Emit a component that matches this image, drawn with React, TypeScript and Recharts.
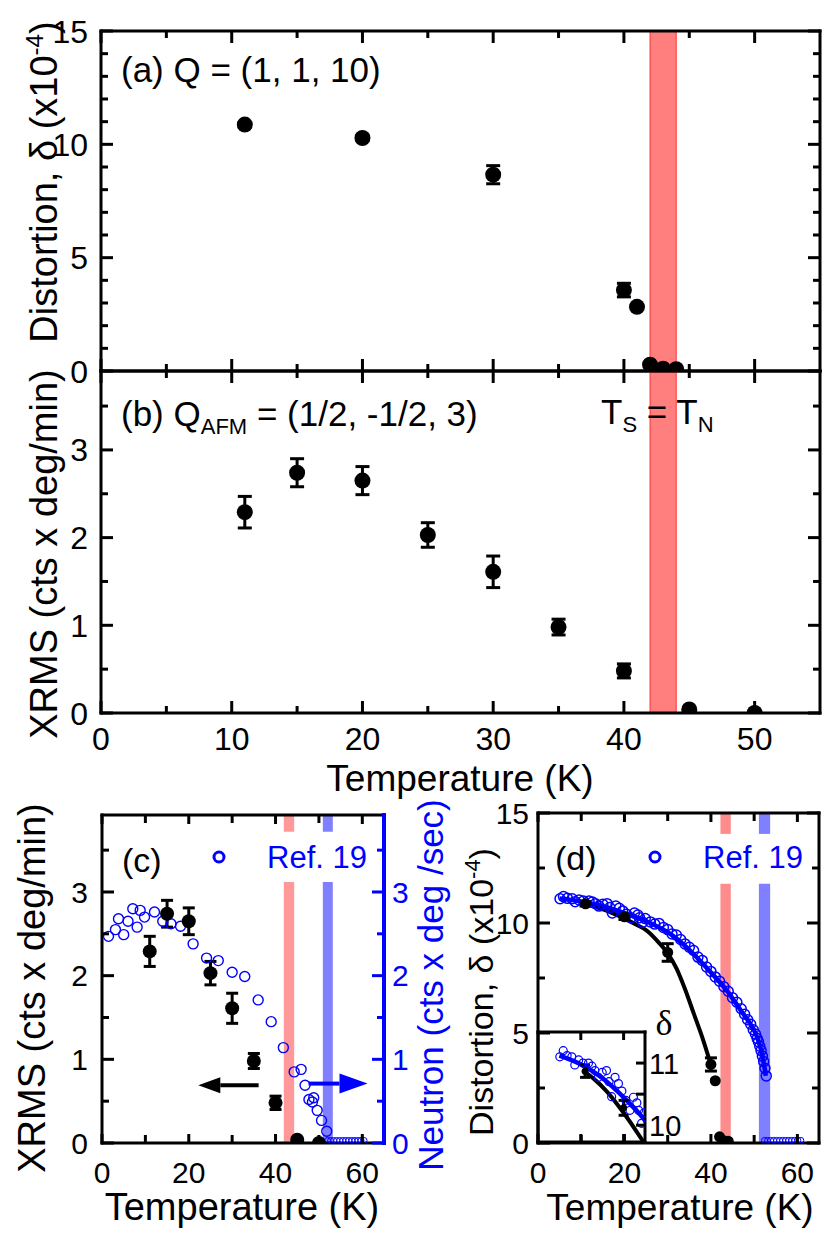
import React from 'react';
import { ComposedChart, Scatter, Line, XAxis, YAxis, ErrorBar, ReferenceArea, ReferenceLine } from 'recharts';

// --- (a) distortion at Q = (1, 1, 10) ---
const distT = [11, 20, 30, 40, 41, 42, 43, 44];
const distVal = [10.87, 10.28, 8.66, 3.57, 2.83, 0.28, 0.1, 0.08];
const distErr = [0.1, 0.12, 0.4, 0.3, 0, 0, 0, 0];

// --- (b) XRMS at Q_AFM ---
const xrmsT = [11, 15, 20, 25, 30, 35, 40, 45, 50];
const xrmsVal = [2.29, 2.74, 2.65, 2.03, 1.61, 0.98, 0.48, 0.04, 0.0];
const xrmsErr = [0.18, 0.16, 0.16, 0.14, 0.18, 0.09, 0.08, 0, 0];

// --- (c) Ref. 19 neutron intensity ---
const neutT = [1.5, 3.1, 3.8, 5.0, 6.0, 7.1, 8.1, 8.8, 9.8, 12.1, 14.0, 15.9, 18.1, 21.0, 24.1, 26.8, 30.0, 32.9, 36.0, 39.0, 41.8, 44.3, 45.9, 46.8, 47.7, 48.5, 48.8, 49.6, 50.6, 51.8];
const neutVal = [2.47, 2.55, 2.68, 2.49, 2.65, 2.8, 2.58, 2.78, 2.7, 2.76, 2.65, 2.62, 2.59, 2.38, 2.21, 2.18, 2.04, 1.99, 1.71, 1.45, 1.14, 0.85, 0.88, 0.69, 0.52, 0.49, 0.54, 0.39, 0.27, 0.14];
const neutZeroT = [52.0, 52.7, 53.4, 54.1, 54.8, 55.5, 56.2, 56.9, 57.6, 58.3, 59.0, 59.7, 60.4];
const neutZeroVal = [0.03, 0.03, 0.03, 0.03, 0.03, 0.03, 0.03, 0.03, 0.03, 0.03, 0.03, 0.03, 0.03];

// --- (d) Ref. 19 distortion ---
const refT = [5.1, 5.9, 6.8, 7.9, 8.6, 9.5, 10.5, 11.8, 12.6, 13.3, 14.1, 15.0, 16.0, 16.6, 17.2, 18.0, 18.8, 19.6, 20.5, 21.5, 22.3, 23.1, 23.5, 24.2, 24.8, 26.0, 27.0, 28.0, 29.0, 30.0, 31.0, 32.0, 33.0, 34.0, 35.0, 36.0, 37.0, 38.0, 39.0, 40.0, 41.0, 42.0, 43.0, 44.0, 45.0, 46.0, 47.0, 47.8, 48.5, 49.2, 49.8, 50.3, 50.7, 51.0, 51.3, 51.6, 51.9, 52.2, 52.5, 52.8];
const refVal = [11.1, 11.2, 11.12, 11.1, 10.97, 11.05, 11.0, 11.0, 10.95, 10.88, 10.77, 10.85, 10.88, 10.7, 10.46, 10.77, 10.67, 10.55, 10.4, 10.24, 10.45, 10.36, 10.24, 10.03, 10.2, 10.05, 9.95, 9.98, 9.8, 9.7, 9.5, 9.45, 9.25, 9.05, 8.9, 8.75, 8.45, 8.3, 8.0, 7.8, 7.55, 7.35, 7.1, 6.9, 6.6, 6.4, 6.1, 5.85, 5.6, 5.4, 5.15, 4.95, 4.75, 4.6, 4.4, 4.2, 3.95, 3.7, 3.4, 3.05];
const refZeroT = [52.4, 53.1, 53.8, 54.5, 55.2, 55.9, 56.6, 57.3, 58.0, 58.7, 59.4, 60.1, 60.8];
const refZeroVal = [0.12, 0.12, 0.12, 0.12, 0.12, 0.12, 0.12, 0.12, 0.12, 0.12, 0.12, 0.12, 0.12];

// guide curves in (d)
const fitBlackT = [10.5, 13, 16, 20, 23, 25, 28, 30, 32, 34, 36, 38, 40];
const fitBlackVal = [10.88, 10.75, 10.55, 10.2, 9.9, 9.68, 9.1, 8.62, 7.95, 7.0, 5.9, 4.8, 3.55];
const fitBlueT = [5, 10, 15, 20, 25, 30, 35, 40, 44, 47, 49, 50.5, 51.5, 52.2, 52.7];
const fitBlueVal = [11.12, 10.98, 10.76, 10.45, 10.08, 9.58, 8.78, 7.75, 6.85, 6.0, 5.45, 4.9, 4.3, 3.65, 3.05];

// tick lists
const xTicksAB = [0, 5, 10, 15, 20, 25, 30, 35, 40, 45, 50];
const xLabelsAB = [0, 10, 20, 30, 40, 50];
const yTicksA = [0, 1, 2, 3, 4, 5, 6, 7, 8, 9, 10, 11, 12, 13, 14, 15];
const yLabelsA = [0, 5, 10, 15];
const yTicksB = [0, 0.5, 1, 1.5, 2, 2.5, 3, 3.5];
const yLabelsB = [0, 1, 2, 3];
const xTicksCD = [0, 10, 20, 30, 40, 50, 60];
const xLabelsCD = [0, 20, 40, 60];
const yTicksD = [0, 2.5, 5, 7.5, 10, 12.5, 15];
const yLabelsD = [0, 5, 10, 15];
const xTicksIn = [10, 20];
const yTicksIn = [10, 10.5, 11];
const yLabelsIn = [10, 11];

const SANS = '"Liberation Sans", Arial, Helvetica, sans-serif';
const BLUE = '#0000ff';

const zip = (xs: number[], ys: number[], es?: number[]) =>
  xs.map((x, i) => ({ x, y: ys[i], err: es ? es[i] : 0 }));

const distData = zip(distT, distVal, distErr);
const xrmsData = zip(xrmsT, xrmsVal, xrmsErr);
const neutData = zip(neutT, neutVal);
const neutZero = zip(neutZeroT, neutZeroVal);
const refData = zip(refT, refVal);
const refZero = zip(refZeroT, refZeroVal);
const fitBlack = zip(fitBlackT, fitBlackVal);
const fitBlue = zip(fitBlueT, fitBlueVal);

type Side = 'left' | 'right' | 'top' | 'bottom';
interface TickCfg {
  side: Side;
  major: number[];
  labels?: number[];
  len?: [number, number];
  color?: string;
  size?: number;
  gap?: number;
}

const near = (arr: number[], v: number) => arr.some((a) => Math.abs(a - v) < 1e-6);

// inward tick marks, labels outside the frame
const makeTick = (cfg: TickCfg) => (props: any) => {
  const { x, y, payload } = props;
  const v = payload.value as number;
  const [maj, min] = cfg.len ?? [12, 7];
  const L = near(cfg.major, v) ? maj : min;
  const c = cfg.color ?? '#000';
  const size = cfg.size ?? 32;
  const gap = cfg.gap ?? 10;
  let x2 = x;
  let y2 = y;
  if (cfg.side === 'left') x2 = x + L;
  if (cfg.side === 'right') x2 = x - L;
  if (cfg.side === 'top') y2 = y + L;
  if (cfg.side === 'bottom') y2 = y - L;
  let label = null;
  if (cfg.labels && near(cfg.labels, v)) {
    const t = String(v);
    const common = { fontSize: size, fontFamily: SANS, fill: c };
    if (cfg.side === 'left') label = <text x={x - gap} y={y + size * 0.36} textAnchor="end" {...common}>{t}</text>;
    if (cfg.side === 'right') label = <text x={x + gap} y={y + size * 0.36} textAnchor="start" {...common}>{t}</text>;
    if (cfg.side === 'bottom') label = <text x={x} y={y + gap} textAnchor="middle" {...common}>{t}</text>;
  }
  return (
    <g>
      <line x1={x} y1={y} x2={x2} y2={y2} stroke={c} strokeWidth={3} />
      {label}
    </g>
  );
};

const AX = { stroke: '#000', strokeWidth: 3, strokeLinecap: 'square' as const };
const AXB = { stroke: BLUE, strokeWidth: 4, strokeLinecap: 'square' as const };

const dot = (r: number) => (p: any) => <circle cx={p.cx} cy={p.cy} r={r} fill="#000" />;
const ring = (r: number, w: number) => (p: any) => <circle cx={p.cx} cy={p.cy} r={r} fill="none" stroke={BLUE} strokeWidth={w} />;

const arrow = (color: string, hl: number, hw: number) => (p: any) => {
  const { x1, y1, x2, y2 } = p;
  const d = Math.sign(x2 - x1);
  return (
    <g>
      <line x1={x1} y1={y1} x2={x2 - d * hl} y2={y2} stroke={color} strokeWidth={4} />
      <polygon points={`${x2},${y2} ${x2 - d * hl},${y2 - hw} ${x2 - d * hl},${y2 + hw}`} fill={color} />
    </g>
  );
};

// axes take 1px (0 hides them), margins are reduced by 1 to compensate
const axisCommon = {
  type: 'number' as const,
  tickLine: false,
  tickSize: 0,
  tickMargin: 0,
  interval: 0 as const,
  allowDataOverflow: true,
};

function PanelA() {
  return (
    <ComposedChart width={830} height={400} margin={{ top: 30, right: 9, bottom: 28, left: 100 }}>
      <XAxis xAxisId="b" dataKey="x" orientation="bottom" height={1} domain={[0, 55]} ticks={xTicksAB} axisLine={AX} tick={makeTick({ side: 'bottom', major: xLabelsAB })} {...axisCommon} />
      <XAxis xAxisId="t" dataKey="x" orientation="top" height={1} domain={[0, 55]} ticks={xTicksAB} axisLine={AX} tick={makeTick({ side: 'top', major: xLabelsAB })} {...axisCommon} />
      <YAxis yAxisId="l" orientation="left" width={1} domain={[0, 15]} ticks={yTicksA} axisLine={AX} tick={makeTick({ side: 'left', major: yLabelsA, labels: yLabelsA, gap: 13 })} {...axisCommon} />
      <YAxis yAxisId="r" orientation="right" width={1} domain={[0, 15]} ticks={yTicksA} axisLine={AX} tick={makeTick({ side: 'right', major: yLabelsA })} {...axisCommon} />
      <ReferenceArea xAxisId="b" yAxisId="l" x1={42} x2={44} fill="#ff0000" fillOpacity={0.5} stroke="#ff3030" strokeWidth={1} />
      <Scatter xAxisId="b" yAxisId="l" data={distData} dataKey="y" shape={dot(8)} isAnimationActive={false}>
        <ErrorBar dataKey="err" direction="y" width={7} strokeWidth={3} stroke="#000" />
      </Scatter>
    </ComposedChart>
  );
}

function PanelB() {
  return (
    <ComposedChart width={830} height={500} margin={{ top: 70, right: 9, bottom: 86, left: 100 }}>
      <XAxis xAxisId="b" dataKey="x" orientation="bottom" height={1} domain={[0, 55]} ticks={xTicksAB} axisLine={AX} tick={makeTick({ side: 'bottom', major: xLabelsAB, labels: xLabelsAB, gap: 37 })} {...axisCommon} />
      <XAxis xAxisId="t" dataKey="x" orientation="top" height={1} domain={[0, 55]} ticks={xTicksAB} axisLine={AX} tick={makeTick({ side: 'top', major: xLabelsAB })} {...axisCommon} />
      <YAxis yAxisId="l" orientation="left" width={1} domain={[0, 3.9]} ticks={yTicksB} axisLine={AX} tick={makeTick({ side: 'left', major: yLabelsB, labels: yLabelsB, gap: 13 })} {...axisCommon} />
      <YAxis yAxisId="r" orientation="right" width={1} domain={[0, 3.9]} ticks={yTicksB} axisLine={AX} tick={makeTick({ side: 'right', major: yLabelsB })} {...axisCommon} />
      <ReferenceArea xAxisId="b" yAxisId="l" x1={42} x2={44} fill="#ff0000" fillOpacity={0.5} stroke="#ff3030" strokeWidth={1} />
      <Scatter xAxisId="b" yAxisId="l" data={xrmsData} dataKey="y" shape={dot(8)} isAnimationActive={false}>
        <ErrorBar dataKey="err" direction="y" width={7} strokeWidth={3} stroke="#000" />
      </Scatter>
    </ComposedChart>
  );
}

function PanelC() {
  return (
    <ComposedChart width={420} height={475} margin={{ top: 54, right: 35, bottom: 91, left: 101 }}>
      <XAxis xAxisId="b" dataKey="x" orientation="bottom" height={1} domain={[0, 65]} ticks={xTicksCD} axisLine={AX} tick={makeTick({ side: 'bottom', major: xLabelsCD, labels: xLabelsCD, gap: 40, size: 30, len: [9, 8] })} {...axisCommon} />
      <XAxis xAxisId="t" dataKey="x" orientation="top" height={1} domain={[0, 65]} ticks={xTicksCD} axisLine={AX} tick={makeTick({ side: 'top', major: xLabelsCD, len: [9, 8] })} {...axisCommon} />
      <YAxis yAxisId="l" orientation="left" width={1} domain={[0, 3.92]} ticks={yTicksB} axisLine={AX} tick={makeTick({ side: 'left', major: yLabelsB, labels: yLabelsB, gap: 14, size: 30 })} {...axisCommon} />
      <YAxis yAxisId="r" orientation="right" width={1} domain={[0, 3.92]} ticks={yTicksB} axisLine={AXB} tick={makeTick({ side: 'right', major: yLabelsB, labels: yLabelsB, gap: 8, size: 30, color: BLUE })} {...axisCommon} />
      <ReferenceArea xAxisId="b" yAxisId="l" x1={41.9} x2={44.3} y1={0} y2={3.12} fill="#ff0000" fillOpacity={0.4} stroke="none" />
      <ReferenceArea xAxisId="b" yAxisId="l" x1={41.9} x2={44.3} y1={3.72} y2={3.92} fill="#ff0000" fillOpacity={0.4} stroke="none" />
      <ReferenceArea xAxisId="b" yAxisId="l" x1={50.9} x2={53.2} y1={0} y2={3.12} fill={BLUE} fillOpacity={0.5} stroke="none" />
      <ReferenceArea xAxisId="b" yAxisId="l" x1={50.9} x2={53.2} y1={3.72} y2={3.92} fill={BLUE} fillOpacity={0.5} stroke="none" />
      <Scatter xAxisId="b" yAxisId="r" data={neutData} dataKey="y" shape={ring(5, 1.4)} isAnimationActive={false} />
      <Scatter xAxisId="b" yAxisId="r" data={neutZero} dataKey="y" shape={ring(3, 1)} isAnimationActive={false} />
      <Scatter xAxisId="b" yAxisId="l" data={xrmsData} dataKey="y" shape={dot(7)} isAnimationActive={false}>
        <ErrorBar dataKey="err" direction="y" width={6} strokeWidth={3} stroke="#000" />
      </Scatter>
      <ReferenceLine xAxisId="b" yAxisId="l" segment={[{ x: 36.1, y: 0.69 }, { x: 22.2, y: 0.69 }]} shape={arrow('#000', 22, 8)} />
      <ReferenceLine xAxisId="b" yAxisId="r" segment={[{ x: 47.6, y: 0.71 }, { x: 61.2, y: 0.71 }]} shape={arrow(BLUE, 28, 10)} />
    </ComposedChart>
  );
}

function PanelD() {
  return (
    <ComposedChart width={410} height={475} margin={{ top: 52, right: 10, bottom: 91, left: 117 }}>
      <XAxis xAxisId="b" dataKey="x" orientation="bottom" height={1} domain={[0, 65]} ticks={xTicksCD} axisLine={AX} tick={makeTick({ side: 'bottom', major: xLabelsCD, labels: xLabelsCD, gap: 40, size: 30, len: [9, 8] })} {...axisCommon} />
      <XAxis xAxisId="t" dataKey="x" orientation="top" height={1} domain={[0, 65]} ticks={xTicksCD} axisLine={AX} tick={makeTick({ side: 'top', major: xLabelsCD, len: [9, 8] })} {...axisCommon} />
      <YAxis yAxisId="l" orientation="left" width={1} domain={[0, 15]} ticks={yTicksD} axisLine={AX} tick={makeTick({ side: 'left', major: yLabelsD, labels: yLabelsD, gap: 9, size: 30 })} {...axisCommon} />
      <YAxis yAxisId="r" orientation="right" width={1} domain={[0, 15]} ticks={yTicksD} axisLine={AX} tick={makeTick({ side: 'right', major: yLabelsD })} {...axisCommon} />
      <ReferenceArea xAxisId="b" yAxisId="l" x1={42.2} x2={44.6} y1={0} y2={11.78} fill="#ff0000" fillOpacity={0.45} stroke="none" />
      <ReferenceArea xAxisId="b" yAxisId="l" x1={42.2} x2={44.6} y1={14.05} y2={15} fill="#ff0000" fillOpacity={0.45} stroke="none" />
      <ReferenceArea xAxisId="b" yAxisId="l" x1={51.1} x2={53.7} y1={0} y2={11.78} fill={BLUE} fillOpacity={0.5} stroke="none" />
      <ReferenceArea xAxisId="b" yAxisId="l" x1={51.1} x2={53.7} y1={14.05} y2={15} fill={BLUE} fillOpacity={0.5} stroke="none" />
      <Scatter xAxisId="b" yAxisId="l" data={refData} dataKey="y" shape={ring(5, 1.5)} isAnimationActive={false} />
      <Scatter xAxisId="b" yAxisId="l" data={refZero} dataKey="y" shape={ring(3, 1)} isAnimationActive={false} />
      <Line xAxisId="b" yAxisId="l" data={fitBlue} dataKey="y" type="monotone" stroke={BLUE} strokeWidth={4.5} dot={false} isAnimationActive={false} />
      <Line xAxisId="b" yAxisId="l" data={fitBlack} dataKey="y" type="monotone" stroke="#000" strokeWidth={4} dot={false} isAnimationActive={false} />
      <Scatter xAxisId="b" yAxisId="l" data={distData} dataKey="y" shape={dot(5.5)} isAnimationActive={false}>
        <ErrorBar dataKey="err" direction="y" width={6} strokeWidth={3} stroke="#000" />
      </Scatter>
    </ComposedChart>
  );
}

function Inset() {
  return (
    <ComposedChart width={170} height={160} margin={{ top: 31, right: 44, bottom: 17, left: 17 }}>
      <XAxis xAxisId="b" dataKey="x" orientation="bottom" height={1} domain={[0, 25]} ticks={xTicksIn} axisLine={AX} tick={makeTick({ side: 'bottom', major: xTicksIn, len: [8, 8] })} {...axisCommon} />
      <XAxis xAxisId="t" dataKey="x" orientation="top" height={1} domain={[0, 25]} ticks={xTicksIn} axisLine={AX} tick={makeTick({ side: 'top', major: xTicksIn, len: [8, 8] })} {...axisCommon} />
      <YAxis yAxisId="l" orientation="left" width={1} domain={[9.73, 11.5]} ticks={[]} axisLine={AX} tick={false} {...axisCommon} />
      <YAxis yAxisId="r" orientation="right" width={1} domain={[9.73, 11.5]} ticks={yTicksIn} axisLine={AX} tick={makeTick({ side: 'right', major: yLabelsIn, labels: yLabelsIn, gap: 4, size: 29, len: [9, 9] })} {...axisCommon} />
      <Scatter xAxisId="b" yAxisId="l" data={refData} dataKey="y" shape={ring(4, 1.2)} isAnimationActive={false} />
      <Line xAxisId="b" yAxisId="l" data={fitBlue} dataKey="y" type="monotone" stroke={BLUE} strokeWidth={4.5} dot={false} isAnimationActive={false} />
      <Line xAxisId="b" yAxisId="l" data={fitBlack} dataKey="y" type="monotone" stroke="#000" strokeWidth={4} dot={false} isAnimationActive={false} />
      <Scatter xAxisId="b" yAxisId="l" data={distData} dataKey="y" shape={dot(3.5)} isAnimationActive={false}>
        <ErrorBar dataKey="err" direction="y" width={5} strokeWidth={3} stroke="#000" />
      </Scatter>
    </ComposedChart>
  );
}

const abs = (left: number, top: number): React.CSSProperties => ({ position: 'absolute', left, top });

export default function App() {
  return (
    <div style={{ position: 'absolute', left: 0, top: 0, width: 830, height: 1235, background: '#fff', overflow: 'hidden' }}>
      <div style={abs(0, 0)}><PanelA /></div>
      <div style={abs(0, 300)}><PanelB /></div>
      <div style={abs(0, 760)}><PanelC /></div>
      <div style={abs(420, 760)}><PanelD /></div>
      <div style={abs(520, 1000)}><Inset /></div>
      <svg width={830} height={1235} style={{ position: 'absolute', left: 0, top: 0, pointerEvents: 'none' }} fontFamily={SANS}>
        {/* (a) / (b) */}
        <text x={121} y={82} fontSize={35}>(a) Q = (1, 1, 10)</text>
        <text transform="translate(57,182) rotate(-90)" textAnchor="middle" fontSize={38}>
          Distortion, δ (x10<tspan dy={-14} fontSize={24}>-4</tspan><tspan dy={14}>)</tspan>
        </text>
        <text x={121} y={426} fontSize={35}>
          (b) Q<tspan dy={8} fontSize={22}>AFM</tspan><tspan dy={-8}> = (1/2, -1/2, 3)</tspan>
        </text>
        <text x={601} y={424} fontSize={35}>
          T<tspan dy={8} fontSize={22}>S</tspan><tspan dy={-8}> = T</tspan><tspan dy={8} fontSize={22}>N</tspan>
        </text>
        <text transform="translate(57,554) rotate(-90)" textAnchor="middle" fontSize={38}>XRMS (cts x deg/min)</text>
        <text x={460} y={791} textAnchor="middle" fontSize={37}>Temperature (K)</text>

        {/* (c) */}
        <text x={122} y={872} fontSize={34}>(c)</text>
        <circle cx={219} cy={857} r={5} fill="none" stroke={BLUE} strokeWidth={3} />
        <text x={267} y={868} fontSize={31} fill={BLUE}>Ref. 19</text>
        <text transform="translate(45,988) rotate(-90)" textAnchor="middle" fontSize={38}>XRMS (cts x deg/min)</text>
        <text transform="translate(443,985) rotate(-90)" textAnchor="middle" fontSize={35} fill={BLUE}>Neutron (cts x deg /sec)</text>
        <text x={242} y={1220} textAnchor="middle" fontSize={38}>Temperature (K)</text>

        {/* (d) */}
        <text x={555} y={870} fontSize={34}>(d)</text>
        <circle cx={655} cy={857} r={5} fill="none" stroke={BLUE} strokeWidth={3} />
        <text x={703} y={868} fontSize={31} fill={BLUE}>Ref. 19</text>
        <text transform="translate(493,992) rotate(-90)" textAnchor="middle" fontSize={34}>
          Distortion, δ (x10<tspan dy={-13} fontSize={22}>-4</tspan><tspan dy={13}>)</tspan>
        </text>
        <text x={680} y={1220} textAnchor="middle" fontSize={37}>Temperature (K)</text>
        <text x={664} y={1035} textAnchor="middle" fontSize={36} fontFamily='"Liberation Serif", "Times New Roman", serif'>δ</text>
      </svg>
    </div>
  );
}
